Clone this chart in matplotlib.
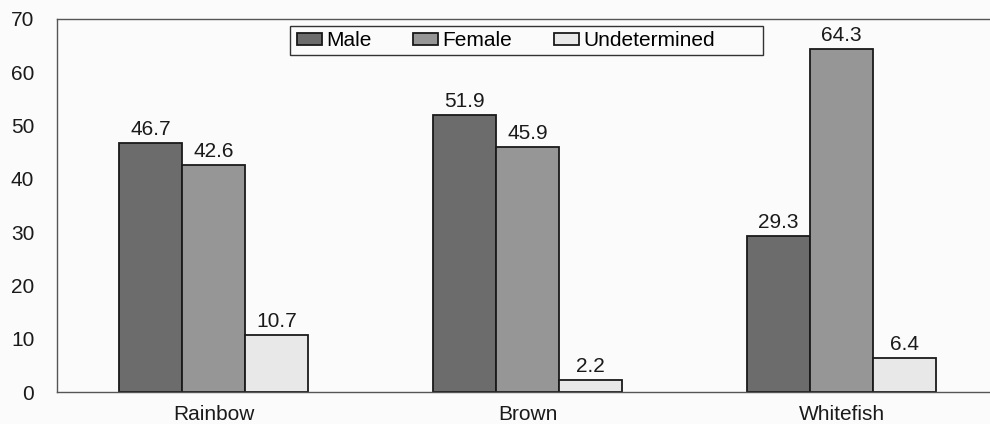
import matplotlib
matplotlib.use("Agg")
import matplotlib.pyplot as plt
from matplotlib.patches import Rectangle
import numpy as np

plt.rcParams['font.family'] = ['Liberation Sans', 'DejaVu Sans']

species = ["Rainbow", "Brown", "Whitefish"]
male = [46.7, 51.9, 29.3]
female = [42.6, 45.9, 64.3]
undetermined = [10.7, 2.2, 6.4]
series_names = ["Male", "Female", "Undetermined"]
yticks = [0, 10, 20, 30, 40, 50, 60, 70]

colors = ["#6c6c6c", "#969696", "#e8e8e8"]
bg = "#fbfbfb"
ink = "#1a1a1a"
FS = 15

W, H = 990, 424
fig = plt.figure(figsize=(W / 100, H / 100), dpi=100)
fig.patch.set_facecolor(bg)
ax = fig.add_axes([56.5 / W, 1 - 392 / H, 942 / W, 373 / H])
ax.set_facecolor(bg)

x = np.arange(len(species))
w = 0.2
handles = []
for i, (vals, name, c) in enumerate(zip([male, female, undetermined], series_names, colors)):
    pos = x + (i - 1) * w
    bars = ax.bar(pos, vals, width=w, color=c, edgecolor=ink, linewidth=1.3, label=name)
    handles.append(bars)
    for b, v in zip(bars, vals):
        ax.annotate(f"{v:.1f}", (b.get_x() + b.get_width() / 2, v),
                    xytext=(0, 3), textcoords="offset points",
                    ha="center", va="bottom", fontsize=FS, color=ink)

ax.set_xlim(-0.5, 2.5)
ax.set_ylim(0, 70)
ax.set_yticks(yticks)
ax.set_xticks(x)
ax.set_xticklabels(species, fontsize=FS, color=ink)
ax.tick_params(axis="y", labelsize=FS, length=0, pad=16, colors=ink)
ax.tick_params(axis="x", length=0, pad=9)
for s in ["left", "top", "bottom"]:
    ax.spines[s].set_color("#555555")
    ax.spines[s].set_linewidth(1.0)
ax.spines["right"].set_visible(False)

# legend entries without frame, boxed by a separate rectangle
leg = fig.legend(handles, series_names, loc="center left",
                 bbox_to_anchor=(297 / W, 1 - 41 / H), ncol=3, fontsize=FS,
                 frameon=False, handlelength=1.2, handleheight=0.5,
                 handletextpad=0.2, columnspacing=2.0, borderpad=0, borderaxespad=0)
fig.patches.append(Rectangle((290 / W, 1 - 55 / H), 473 / W, 29 / H,
                             transform=fig.transFigure, facecolor="none",
                             edgecolor="#333333", linewidth=1.0))

fig.savefig("out.png", dpi=100, facecolor=fig.get_facecolor())
